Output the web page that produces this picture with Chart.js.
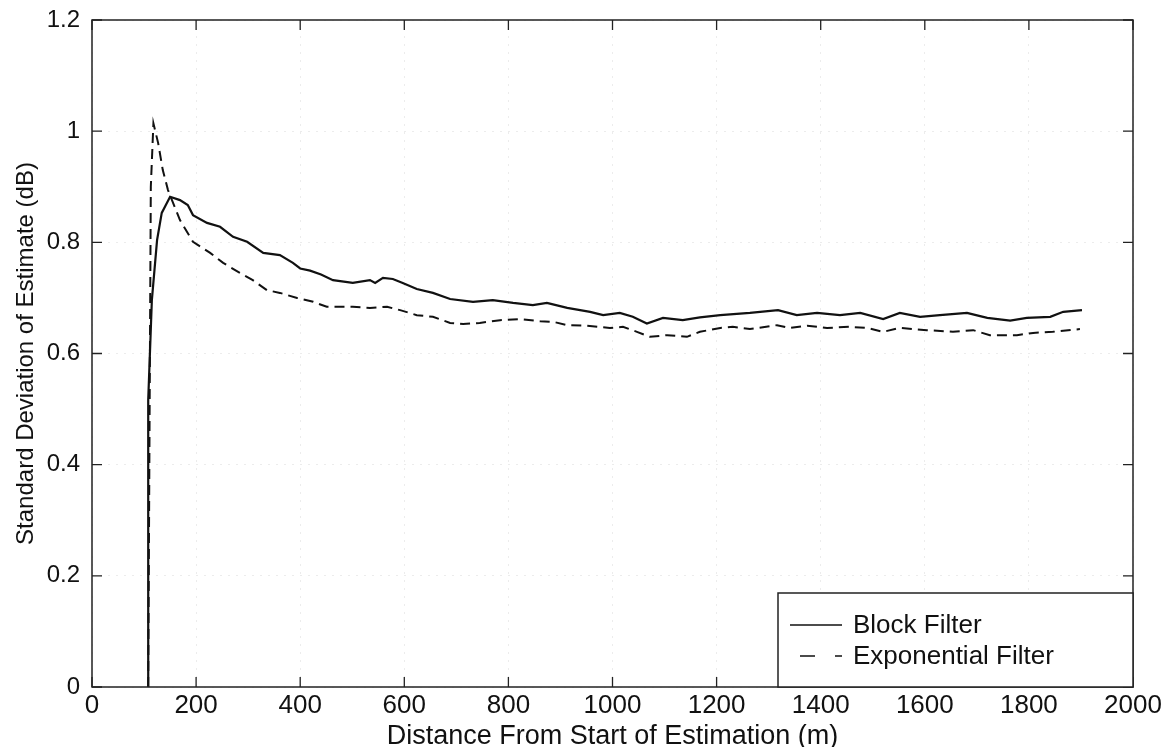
<!DOCTYPE html>
<html lang="en">
<head>
  <meta charset="UTF-8">
  <title>Standard Deviation of Estimate</title>
  <script src="https://cdn.jsdelivr.net/npm/chart.js"></script>
  <style>
    html, body {
      margin: 0;
      padding: 0;
      background: #ffffff;
    }
    .chart-container {
      position: relative;
      width: 1170px;
      height: 747px;
    }
  </style>
</head>
<body>
  <div class="chart-container">
    <canvas id="stdChart"></canvas>
  </div>

  <script>
    // distance (m) and std dev (dB) for the block filter
    const blockX = [108, 108, 115, 125, 134, 150, 169, 184, 194, 221, 246, 271, 298, 329, 361, 386, 400, 419, 440, 463,
      501, 534, 544, 559, 578, 597, 624, 655, 688, 732, 770, 809, 847, 874, 913, 957, 982, 1014, 1039, 1066,
      1097, 1135, 1168, 1207, 1264, 1318, 1354, 1393, 1437, 1476, 1520, 1552, 1591, 1629, 1681, 1720, 1764, 1796, 1841, 1866, 1902];
    const blockY = [0, 0.516, 0.696, 0.804, 0.853, 0.882, 0.876, 0.867, 0.849, 0.835, 0.828, 0.810, 0.801, 0.781, 0.777, 0.763, 0.753, 0.749, 0.742, 0.732,
      0.727, 0.732, 0.727, 0.736, 0.734, 0.727, 0.716, 0.709, 0.698, 0.693, 0.696, 0.691, 0.687, 0.691, 0.682, 0.675, 0.669, 0.673, 0.666, 0.654,
      0.664, 0.660, 0.665, 0.669, 0.673, 0.678, 0.669, 0.673, 0.669, 0.673, 0.662, 0.673, 0.666, 0.669, 0.673, 0.664, 0.659, 0.664, 0.666, 0.675, 0.678];

    // distance (m) and std dev (dB) for the exponential filter
    const expX = [108, 111, 113, 118, 127, 136, 146, 169, 194, 227, 252, 284, 309, 336, 361, 394, 425, 451, 501, 534,
      567, 592, 624, 655, 688, 713, 745, 784, 822, 861, 886, 913, 951, 995, 1020, 1047, 1072, 1105, 1143, 1168,
      1207, 1231, 1264, 1316, 1341, 1374, 1412, 1456, 1489, 1520, 1552, 1604, 1654, 1693, 1725, 1777, 1808, 1846, 1898];
    const expY = [0, 0.55, 0.9, 1.014, 0.979, 0.930, 0.894, 0.840, 0.801, 0.781, 0.763, 0.745, 0.732, 0.714, 0.709, 0.700, 0.693, 0.684, 0.684, 0.682,
      0.684, 0.678, 0.669, 0.666, 0.655, 0.653, 0.655, 0.660, 0.662, 0.658, 0.657, 0.651, 0.650, 0.646, 0.648, 0.639, 0.630, 0.633, 0.630, 0.639,
      0.646, 0.648, 0.644, 0.651, 0.646, 0.650, 0.646, 0.648, 0.646, 0.639, 0.646, 0.642, 0.639, 0.642, 0.633, 0.633, 0.637, 0.639, 0.644];

    const seriesNames = ['Block Filter', 'Exponential Filter'];
    const xTicks = [0, 2000, 200];   // min, max, step
    const yTicks = [0, 1.2, 0.2];

    const toPoints = (xs, ys) => xs.map((x, i) => ({ x: x, y: ys[i] }));

    Chart.defaults.font.family = '"Liberation Sans", Arial, sans-serif';
    Chart.defaults.color = '#111';

    // box frame, inward ticks on all four sides, and the boxed legend
    const framePlugin = {
      id: 'frame',
      afterDatasetsDraw(chart) {
        const { ctx, chartArea: a, scales } = chart;
        ctx.save();
        ctx.strokeStyle = '#222';
        ctx.lineWidth = 1.5;
        ctx.strokeRect(a.left, a.top, a.right - a.left, a.bottom - a.top);
        ctx.lineWidth = 1.3;
        ctx.beginPath();
        scales.x.ticks.forEach(t => {
          const px = scales.x.getPixelForValue(t.value);
          ctx.moveTo(px, a.bottom); ctx.lineTo(px, a.bottom - 10);
          ctx.moveTo(px, a.top); ctx.lineTo(px, a.top + 10);
        });
        scales.y.ticks.forEach(t => {
          const py = scales.y.getPixelForValue(t.value);
          ctx.moveTo(a.left, py); ctx.lineTo(a.left + 10, py);
          ctx.moveTo(a.right, py); ctx.lineTo(a.right - 10, py);
        });
        ctx.stroke();

        // legend box in the lower right corner
        const bw = 355, bh = 94;
        const bx = a.right - bw, by = a.bottom - bh;
        ctx.fillStyle = '#fff';
        ctx.fillRect(bx, by, bw, bh);
        ctx.lineWidth = 1.5;
        ctx.strokeRect(bx, by, bw, bh);
        ctx.font = '26px "Liberation Sans", Arial, sans-serif';
        ctx.textBaseline = 'middle';
        ctx.fillStyle = '#111';
        chart.data.datasets.forEach((ds, i) => {
          const ly = by + 32 + i * 31;
          ctx.strokeStyle = ds.borderColor;
          ctx.lineWidth = 1.6;
          ctx.setLineDash(i === 0 ? [] : [15, 20]);
          ctx.beginPath();
          ctx.moveTo(bx + (i === 0 ? 12 : 22), ly);
          ctx.lineTo(bx + 64, ly);
          ctx.stroke();
          ctx.setLineDash([]);
          ctx.fillText(ds.label, bx + 75, ly + 1);
        });
        ctx.restore();
      }
    };

    const ctx = document.getElementById('stdChart').getContext('2d');
    new Chart(ctx, {
      type: 'line',
      data: {
        datasets: [{
          label: seriesNames[0],
          data: toPoints(blockX, blockY),
          borderColor: '#111',
          borderWidth: 2.2,
          pointRadius: 0,
          tension: 0
        }, {
          label: seriesNames[1],
          data: toPoints(expX, expY),
          borderColor: '#111',
          borderWidth: 2,
          borderDash: [10, 6],
          pointRadius: 0,
          tension: 0
        }]
      },
      options: {
        responsive: true,
        maintainAspectRatio: false,
        animation: false,
        layout: { padding: { left: 0, right: 37, top: 20, bottom: 0 } },
        plugins: {
          legend: { display: false },
          tooltip: { enabled: false }
        },
        scales: {
          x: {
            type: 'linear',
            min: xTicks[0],
            max: xTicks[1],
            ticks: {
              stepSize: xTicks[2],
              autoSkip: false,
              maxRotation: 0,
              padding: 3,
              font: { size: 26 },
              callback: v => String(v)
            },
            grid: { color: '#ececec', lineWidth: 1, drawTicks: false },
            border: { display: false, dash: [2, 6] },
            title: {
              display: true,
              text: 'Distance From Start of Estimation (m)',
              font: { size: 27 },
              padding: { top: 0, bottom: -6 }
            },
            afterFit(scale) {
              scale.height = 60;
              scale.paddingLeft = 0;
              scale.paddingRight = 0;
            }
          },
          y: {
            min: yTicks[0],
            max: yTicks[1],
            ticks: {
              stepSize: yTicks[2],
              padding: 12,
              font: { size: 24 },
              callback: v => String(Number(v.toFixed(1)))
            },
            grid: { color: '#ececec', lineWidth: 1, drawTicks: false },
            border: { display: false, dash: [2, 6] },
            title: {
              display: true,
              text: 'Standard Deviation of Estimate (dB)',
              font: { size: 24 },
              padding: { top: 12, bottom: 0 }
            },
            afterFit(scale) {
              scale.width = 92;
              scale.paddingTop = 0;
              scale.paddingBottom = 0;
            }
          }
        }
      },
      plugins: [framePlugin]
    });
  </script>
</body>
</html>
